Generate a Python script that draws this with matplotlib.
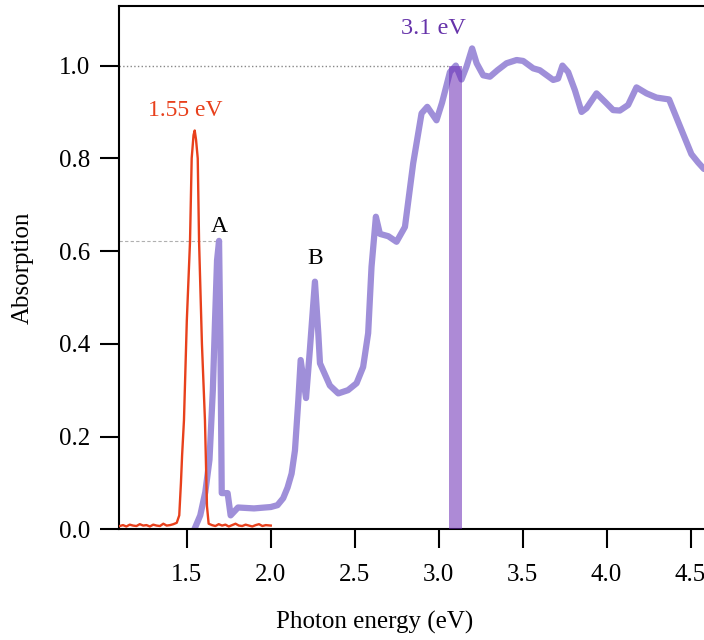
import matplotlib
matplotlib.use("Agg")
import matplotlib.pyplot as plt

# red: laser / 1.55 eV pump spectrum
red_energy = [1.10, 1.12, 1.14, 1.16, 1.18, 1.20, 1.22, 1.24, 1.26, 1.28, 1.30, 1.32, 1.34,
              1.36, 1.38, 1.40, 1.42, 1.44, 1.455, 1.465, 1.472, 1.483, 1.50, 1.519,
              1.529, 1.540, 1.547, 1.555, 1.565, 1.573, 1.590, 1.608, 1.620, 1.630,
              1.65, 1.67, 1.69, 1.71, 1.73, 1.75, 1.77, 1.79, 1.81, 1.83, 1.85, 1.87,
              1.89, 1.91, 1.93, 1.95, 1.97, 2.00]
red_abs = [0.007, 0.009, 0.006, 0.010, 0.008, 0.007, 0.011, 0.008, 0.009, 0.006, 0.010,
           0.008, 0.007, 0.012, 0.008, 0.009, 0.011, 0.014, 0.030, 0.10, 0.16, 0.235,
           0.45, 0.62, 0.80, 0.85, 0.86, 0.84, 0.80, 0.62, 0.40, 0.235, 0.05, 0.012,
           0.009, 0.007, 0.011, 0.008, 0.010, 0.006, 0.009, 0.012, 0.008, 0.007, 0.010,
           0.008, 0.006, 0.009, 0.011, 0.007, 0.009, 0.008]

# purple: sample absorption spectrum
abs_energy = [1.545, 1.58, 1.61, 1.635, 1.655, 1.668, 1.68, 1.692, 1.700, 1.708, 1.743,
              1.761, 1.805, 1.90, 2.00, 2.04, 2.074, 2.10, 2.124, 2.144, 2.164, 2.178, 2.21,
              2.233, 2.263, 2.283, 2.293, 2.352, 2.402, 2.46, 2.511, 2.55, 2.58, 2.60, 2.626,
              2.65, 2.70, 2.749, 2.799, 2.848, 2.898, 2.932, 2.987, 3.02, 3.067, 3.102, 3.136,
              3.166, 3.199, 3.226, 3.265, 3.305, 3.35, 3.404, 3.464, 3.503, 3.563, 3.602,
              3.682, 3.711, 3.737, 3.771, 3.811, 3.851, 3.88, 3.94, 3.99, 4.039, 4.079,
              4.128, 4.178, 4.238, 4.297, 4.372, 4.436, 4.505, 4.545, 4.58]
abs_val = [0.0, 0.03, 0.08, 0.15, 0.30, 0.45, 0.58, 0.622, 0.40, 0.078, 0.078,
           0.03, 0.047, 0.045, 0.048, 0.052, 0.067, 0.09, 0.12, 0.17, 0.278, 0.365, 0.283,
           0.388, 0.534, 0.423, 0.358, 0.31, 0.293, 0.30, 0.315, 0.35, 0.423, 0.566, 0.674,
           0.637, 0.632, 0.62, 0.652, 0.789, 0.897, 0.911, 0.882, 0.92, 0.986, 1.0, 0.97,
           0.998, 1.037, 1.005, 0.979, 0.976, 0.99, 1.005, 1.012, 1.01, 0.994, 0.99,
           0.969, 0.972, 1.0, 0.986, 0.947, 0.9, 0.908, 0.94, 0.922, 0.904, 0.903,
           0.915, 0.953, 0.94, 0.931, 0.927, 0.87, 0.809, 0.791, 0.777]

pump_energy = 3.1
pump_level = 1.0

x_ticks = [1.5, 2.0, 2.5, 3.0, 3.5, 4.0, 4.5]
y_ticks = [0.0, 0.2, 0.4, 0.6, 0.8, 1.0]

red = '#e8401c'
purple = '#9f8fd9'
dark_purple = '#6633aa'

plt.rcParams['font.family'] = ['Liberation Serif', 'DejaVu Serif']

fig = plt.figure(figsize=(7.04, 6.4), dpi=100)
ax = fig.add_axes([0.169, 0.173, 0.831, 0.818])

ax.plot(abs_energy, abs_val, color=purple, lw=4.5, solid_joinstyle='round',
        solid_capstyle='round', zorder=2)
ax.plot(red_energy, red_abs, color=red, lw=1.7, zorder=4)
ax.bar(pump_energy, pump_level, width=0.075, color='#6a2bb5', alpha=0.55, zorder=3)

xmin, xmax = 1.096, 4.58
# guide lines
ax.plot([xmin, pump_energy - 0.035], [pump_level, pump_level], ls=':', color='#888888', lw=1.0, zorder=1)
a_idx = max(range(len(abs_energy)), key=lambda i: abs_val[i] if abs_energy[i] < 2.0 else -1)
ax.plot([xmin, abs_energy[a_idx]], [abs_val[a_idx], abs_val[a_idx]], ls='--', color='#b0b0b0',
        lw=0.8, dashes=(3, 2), zorder=1)

ax.text(1.492, 0.904, '1.55 eV', color=red, fontsize=17, ha='center', va='center')
ax.text(2.967, 1.079, '3.1 eV', color=dark_purple, fontsize=17.5, ha='center', va='center')
ax.text(1.693, 0.654, 'A', color='black', fontsize=17, ha='center', va='center')
ax.text(2.263, 0.584, 'B', color='black', fontsize=17, ha='center', va='center')

ax.set_xlim(xmin, xmax)
ax.set_ylim(0.0, 1.129)
ax.set_xticks(x_ticks)
ax.set_xticklabels(['%.1f' % t for t in x_ticks])
ax.set_yticks(y_ticks)
ax.set_yticklabels(['%.1f' % t for t in y_ticks])
ax.tick_params(axis='both', direction='out', length=14, width=1.5, labelsize=18)
ax.tick_params(axis='x', pad=11)
ax.tick_params(axis='y', pad=7)
for side in ['left', 'bottom', 'top']:
    ax.spines[side].set_linewidth(1.5)
ax.spines['right'].set_visible(False)

ax.set_xlabel('Photon energy (eV)', fontsize=18)
ax.set_ylabel('Absorption', fontsize=18)
ax.xaxis.set_label_coords(0.437, -0.155)
ax.yaxis.set_label_coords(-0.146, 0.5)

fig.savefig('out.png', dpi=100)
